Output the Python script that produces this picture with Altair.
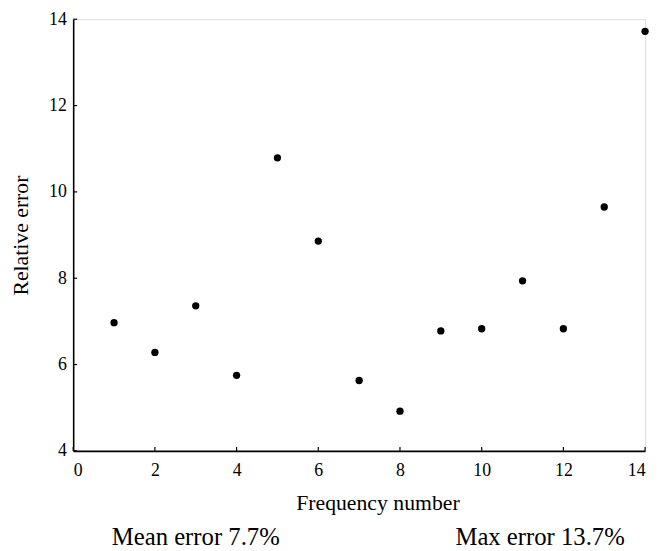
import altair as alt
import pandas as pd

# ---- data ----
freq = [1, 2, 3, 4, 5, 6, 7, 8, 9, 10, 11, 12, 13, 14]
rel_err = [6.97, 6.28, 7.36, 5.75, 10.79, 8.86, 5.63, 4.92, 6.78, 6.83, 7.94, 6.83, 9.65, 13.72]
x_ticks = [0, 2, 4, 6, 8, 10, 12, 14]
y_ticks = [4, 6, 8, 10, 12, 14]
note_labels = ["Mean error 7.7%", "Max error 13.7%"]
note_x = [3.0, 11.43]

df = pd.DataFrame({"freq": freq, "err": rel_err})
notes = pd.DataFrame({"freq": note_x, "label": note_labels})
xt = pd.DataFrame({"freq": x_ticks})
yt = pd.DataFrame({"err": y_ticks})

W, H = 579, 437
SERIF = "Liberation Serif"

x_scale = alt.Scale(domain=[0, 14], nice=False, zero=False)
y_scale = alt.Scale(domain=[4, 14], nice=False, zero=False)

common = dict(
    domainColor="black",
    domainWidth=1.6,
    grid=False,
    ticks=False,
    labelFont=SERIF,
    labelFontSize=18,
    labelColor="black",
    titleFont=SERIF,
    titleFontSize=22,
    titleFontWeight="normal",
    titleColor="black",
    titlePadding=0,
)

x_axis = alt.Axis(
    values=x_ticks,
    title="Frequency number",
    titleX=308,
    titleY=59,
    titleAlign="center",
    titleBaseline="alphabetic",
    labelPadding=11,
    **common,
)
y_axis = alt.Axis(
    values=y_ticks,
    title="Relative error",
    titleX=-53,
    titleY=H / 2,
    titleAngle=270,
    titleAlign="center",
    titleBaseline="middle",
    labelPadding=7,
    **common,
)

points = alt.Chart(df).mark_circle(size=55, color="black", opacity=1).encode(
    x=alt.X("freq:Q", scale=x_scale, axis=x_axis),
    y=alt.Y("err:Q", scale=y_scale, axis=y_axis),
)

x_tick_marks = alt.Chart(xt).mark_rule(color="black", strokeWidth=1.2).encode(
    x=alt.X("freq:Q", scale=x_scale, axis=x_axis),
    y=alt.value(H),
    y2=alt.value(H - 4),
)

y_tick_marks = alt.Chart(yt).mark_rule(color="black", strokeWidth=1.2).encode(
    y=alt.Y("err:Q", scale=y_scale, axis=y_axis),
    x=alt.value(0),
    x2=alt.value(4),
)

note_layer = alt.Chart(notes).mark_text(
    font=SERIF, fontSize=25, baseline="alphabetic", align="center", color="black"
).encode(
    x=alt.X("freq:Q", scale=x_scale, axis=x_axis),
    y=alt.value(532),
    text="label:N",
)

chart = (
    alt.layer(x_tick_marks, y_tick_marks, points, note_layer)
    .properties(
        width=W,
        height=H,
        autosize=alt.AutoSizeParams(type="none"),
        padding={"left": 66, "top": 8, "right": 7, "bottom": 98},
        background="white",
    )
    .configure_view(stroke=None)
    .configure(font=SERIF)
)

chart.save("out.html", embed_options={"renderer": "svg", "actions": False})
